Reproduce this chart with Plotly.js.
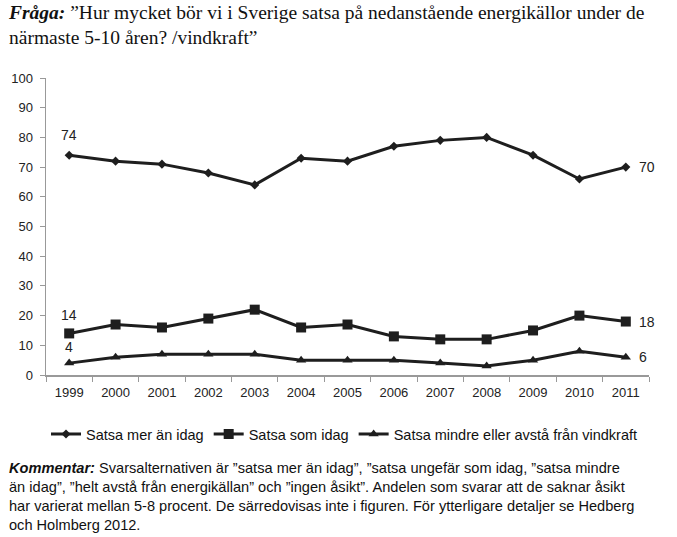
<!DOCTYPE html>
<html>
<head>
<meta charset="utf-8">
<script src="https://cdn.plot.ly/plotly-3.0.1.min.js"></script>
<style>html,body{margin:0;padding:0;background:#fff;}#chart{width:677px;height:537px;}</style>
</head>
<body>
<div id="chart"></div>
<script>
const years = ["1999","2000","2001","2002","2003","2004","2005","2006","2007","2008","2009","2010","2011"];
const satsaMer = [74,72,71,68,64,73,72,77,79,80,74,66,70];
const satsaSom = [14,17,16,19,22,16,17,13,12,12,15,20,18];
const satsaMindre = [4,6,7,7,7,5,5,5,4,3,5,8,6];
const seriesNames = ["Satsa mer än idag","Satsa som idag","Satsa mindre eller avstå från vindkraft"];
const yTicks = [0,10,20,30,40,50,60,70,80,90,100];

const lineColor = "#1e1e1e";
const symbols = ["diamond","square","triangle-up"];
const msizes = [7,10,9];
const labelShift = [20,18,16];
const allSeries = [satsaMer, satsaSom, satsaMindre];

const traces = allSeries.map((vals,i)=>({
  type:"scatter", mode:"lines+markers", x:years, y:vals, name:seriesNames[i],
  line:{color:lineColor, width:3},
  marker:{symbol:symbols[i], size:msizes[i], color:lineColor},
  cliponaxis:false
}));

const annotations = [];
const lastIdx = years.length-1;
allSeries.forEach((vals,i)=>{
  annotations.push({x:0, y:vals[0], xref:"x", yref:"y", text:String(vals[0]), showarrow:false,
    yshift:labelShift[i], font:{family:"Liberation Sans, Arial", size:14, color:"#222"}});
  annotations.push({x:lastIdx, y:vals[lastIdx], xref:"x", yref:"y", text:String(vals[lastIdx]),
    showarrow:false, xanchor:"left", xshift:11, font:{family:"Liberation Sans, Arial", size:14, color:"#222"}});
});

annotations.push({
  xref:"paper", yref:"paper", x:-0.065, y:-0.28, xanchor:"left", yanchor:"top", align:"left", showarrow:false,
  text:"<b><i>Kommentar:</i></b> Svarsalternativen är ”satsa mer än idag”, ”satsa ungefär som idag, ”satsa mindre<br>än idag”, ”helt avstå från energikällan” och ”ingen åsikt”. Andelen som svarar att de saknar åsikt<br>har varierat mellan 5-8 procent. De särredovisas inte i figuren. För ytterligare detaljer se Hedberg<br>och Holmberg 2012.",
  font:{family:"Liberation Sans, Arial", size:14.6, color:"#111"}
});
annotations.push({
  xref:"paper", yref:"paper", x:-0.066, y:1.262, xanchor:"left", yanchor:"top", align:"left", showarrow:false,
  text:"<b><i>Fråga:</i></b> ”Hur mycket bör vi i Sverige satsa på nedanstående energikällor under de<br>närmaste 5-10 åren? /vindkraft”",
  font:{family:"Liberation Serif, DejaVu Serif, serif", size:19.5, color:"#111"}
});

const layout = {
  width:677, height:537,
  margin:{l:46, r:28, t:78, b:162},
  paper_bgcolor:"#fff", plot_bgcolor:"#fff",
  showlegend:true,
  legend:{orientation:"h", x:0.0, xanchor:"left", y:-0.145, yanchor:"top",
    font:{family:"Liberation Sans, Arial", size:14.5, color:"#111"}, itemwidth:30, tracegroupgap:0},
  xaxis:{type:"category", range:[-0.5,12.5], showgrid:false, zeroline:false,
    showline:true, linecolor:"#999", linewidth:1.5, ticks:"outside", tickson:"boundaries",
    ticklen:5, tickcolor:"#999", ticklabelstandoff:5,
    tickfont:{family:"Liberation Sans, Arial", size:13, color:"#222"}},
  yaxis:{range:[0,100], tickvals:yTicks, showgrid:false, zeroline:false,
    showline:true, linecolor:"#999", linewidth:1.5, ticks:"outside", ticklen:5, tickcolor:"#999",
    ticklabelstandoff:4,
    tickfont:{family:"Liberation Sans, Arial", size:13, color:"#222"}},
  annotations:annotations
};

Plotly.newPlot("chart", traces, layout, {displayModeBar:false, staticPlot:true});
</script>
</body>
</html>
